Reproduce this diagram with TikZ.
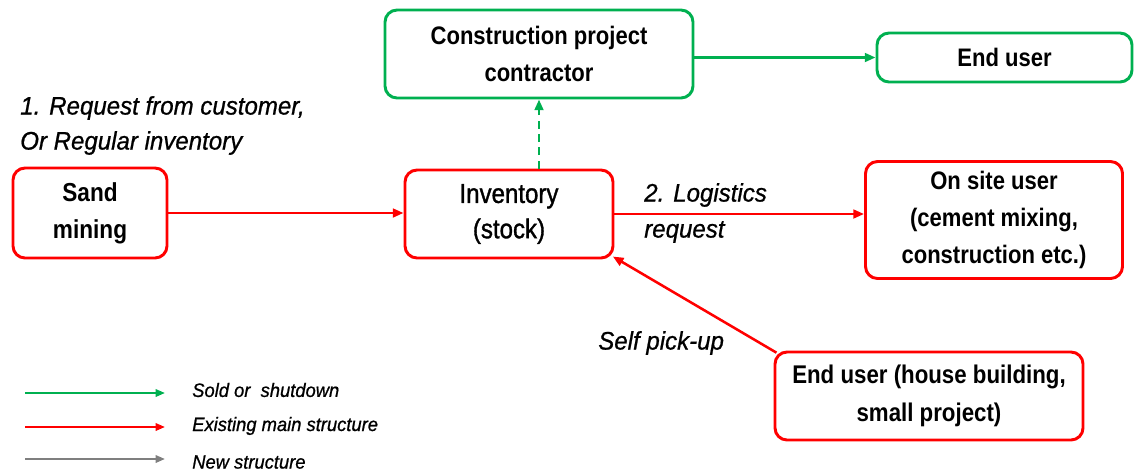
\documentclass[tikz,border=0pt]{standalone}
\usepackage{fontspec}
\setmainfont{Liberation Sans}[FakeStretch=0.87]
\newfontfamily\medfont{Liberation Sans}[FakeStretch=0.88, FakeBold=1.2]
\newfontfamily\lblfont{Liberation Sans}[FakeStretch=0.95, FakeBold=0.8]
\usetikzlibrary{arrows.meta}
\definecolor{gr}{HTML}{00B050}
\definecolor{rd}{HTML}{FF0000}
\definecolor{gy}{HTML}{7F7F7F}
\tikzset{
  box/.style={draw, rounded corners=9pt, line width=2.2pt, align=center, inner sep=0pt,
    font=\bfseries\fontsize{19}{28}\selectfont},
  arr/.style={-{Triangle[length=8pt,width=6.5pt]}, line width=1.9pt},
  lbl/.style={font=\lblfont\itshape\fontsize{19}{26}\selectfont, inner sep=0pt, align=left},
  leg/.style={font=\lblfont\itshape\fontsize{14.5}{17}\selectfont, inner sep=0pt, anchor=west},
  legarr/.style={-{Triangle[length=7pt,width=5.5pt]}, line width=1.6pt}
}
\begin{document}
\begin{tikzpicture}[x=0.75pt,y=-0.75pt]
\useasboundingbox (0,0) rectangle (1136,472);
\node[box, draw=gr, minimum width={308*0.75pt}, minimum height={88*0.75pt}] (con) at (539,54) {Construction project\\contractor};
\node[box, draw=gr, minimum width={255*0.75pt}, minimum height={49*0.75pt}] (eu) at (1004.5,57.5) {End user};
\node[box, draw=rd, minimum width={154*0.75pt}, minimum height={90*0.75pt}, font=\bfseries\fontsize{19.5}{28}\selectfont] (sand) at (90,213) {Sand\\mining};
\node[box, draw=rd, minimum width={208*0.75pt}, minimum height={88*0.75pt}, font=\medfont\fontsize{20.5}{26.5}\selectfont] (inv) at (509,214) {Inventory\\(stock)};
\node[box, draw=rd, minimum width={257*0.75pt}, minimum height={117*0.75pt}] (site) at (994,220) {On site user\\(cement mixing,\\construction etc.)};
\node[box, draw=rd, minimum width={308*0.75pt}, minimum height={88*0.75pt}, font=\bfseries\fontsize{19.2}{28.5}\selectfont] (hb) at (929,396) {End user (house building,\\small project)};

\draw[arr, rd] (sand.east) -- (sand.east -| inv.west);
\draw[arr, rd] (inv.east) -- (inv.east -| site.west);
\draw[arr, gr, dashed, dash pattern=on 6pt off 4pt] (inv.north -| con.south) -- (con.south);
\draw[arr, gr] (con.east |- eu.west) -- (eu.west);
\draw[arr, rd] ([shift={(2.2pt,-1.6pt)}]hb.north west) -- ([shift={(-1.2pt,2.2pt)}]inv.south east);

\node[lbl, anchor=west] (l1a) at (20,108) {1. Request from customer,};
\node[lbl, anchor=west] (l1b) at (20,143) {Or Regular inventory};
\node[lbl, anchor=west] (l2a) at (644,195) {2. Logistics};
\node[lbl, anchor=west] (l2b) at (644,232) {request};
\node[lbl, anchor=west] (l3) at (598,343) {Self pick-up};

\coordinate (g1) at (25,393);
\coordinate (g2) at (165,393);
\coordinate (r1) at (25,427);
\coordinate (r2) at (165,427);
\coordinate (y1) at (25,459);
\coordinate (y2) at (165,459);
\draw[legarr, gr] (g1) -- (g2);
\draw[legarr, rd] (r1) -- (r2);
\draw[legarr, gy] (y1) -- (y2);
\node[leg] (t1) at (192,390) {Sold or\ \ shutdown};
\node[leg] (t2) at (192,426) {Existing main structure};
\node[leg] (t3) at (192,462) {New structure};
\end{tikzpicture}
\end{document}
